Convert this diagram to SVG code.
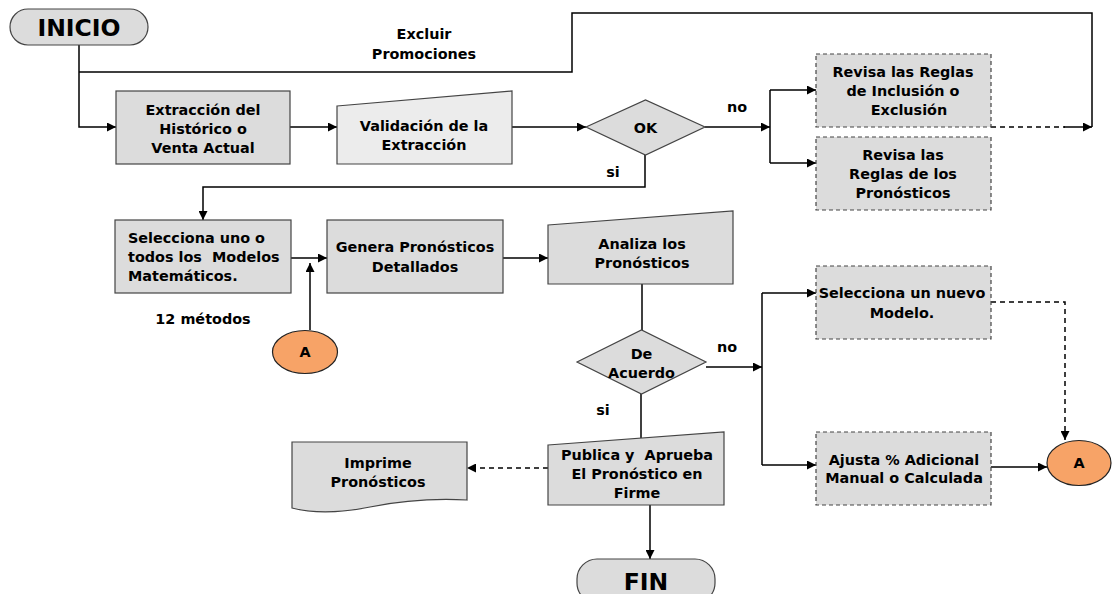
<svg xmlns="http://www.w3.org/2000/svg" width="1112" height="594" viewBox="0 0 1112 594">
<style>
.t{font-family:"DejaVu Sans",Verdana,sans-serif;font-weight:bold;font-size:14.4px;fill:#000;text-anchor:middle}
.big{font-size:23.5px}
.box{fill:#dcdcdc;stroke:#444;stroke-width:1.2}
.lt{fill:#ececec}
.dash{fill:#dcdcdc;stroke:#444;stroke-width:1.2;stroke-dasharray:4 3}
.orange{fill:#f7a367;stroke:#222;stroke-width:1.2}
.c{fill:none;stroke:#000;stroke-width:1.5}
.cd{fill:none;stroke:#000;stroke-width:1.5;stroke-dasharray:5 4}
.lbl{font-family:"DejaVu Sans",Verdana,sans-serif;font-weight:bold;font-size:14.4px;fill:#000;text-anchor:middle}
.st{text-anchor:start}
</style>
<defs>
<marker id="ah" viewBox="0 0 10 10" refX="10" refY="5" markerWidth="10" markerHeight="9" markerUnits="userSpaceOnUse" orient="auto">
<path d="M0,0 L10,5 L0,10 Z" fill="#000"/>
</marker>
</defs>

<g id="connectors">
<path class="c" d="M79,45 V127 H116" marker-end="url(#ah)"/>
<path class="c" d="M79,72 H572 V13 H1092 V127"/>
<path class="c" d="M290,127 H337" marker-end="url(#ah)"/>
<path class="c" d="M512,127 H586" marker-end="url(#ah)"/>
<path class="c" d="M705,127 H770" marker-end="url(#ah)"/>
<path class="c" d="M770,90 V163"/>
<path class="c" d="M770,90 H816" marker-end="url(#ah)"/>
<path class="c" d="M770,163 H816" marker-end="url(#ah)"/>
<path class="cd" d="M991,127 H1065"/>
<path class="c" d="M1064,127 H1092" marker-end="url(#ah)"/>
<path class="c" d="M645,155 V187 H203 V220" marker-end="url(#ah)"/>
<path class="c" d="M291,258 H327" marker-end="url(#ah)"/>
<path class="c" d="M310,330 V263" marker-end="url(#ah)"/>
<path class="c" d="M503,258 H548" marker-end="url(#ah)"/>
<path class="c" d="M642,284 V330"/>
<path class="c" d="M706,367 H762" marker-end="url(#ah)"/>
<path class="c" d="M762,293 V465"/>
<path class="c" d="M762,293 H816" marker-end="url(#ah)"/>
<path class="c" d="M762,465 H816" marker-end="url(#ah)"/>
<path class="cd" d="M991,302 H1065 V440" marker-end="url(#ah)"/>
<path class="c" d="M991,467 H1047" marker-end="url(#ah)"/>
<path class="c" d="M641,394 V438"/>
<path class="cd" d="M548,468 H467" marker-end="url(#ah)"/>
<path class="c" d="M650,505 V559" marker-end="url(#ah)"/>
</g>

<g id="labels">
<text class="lbl" x="424" y="39">Excluir</text>
<text class="lbl" x="424" y="59">Promociones</text>
<text class="lbl" x="613" y="177">si</text>
<text class="lbl" x="737" y="112">no</text>
<text class="lbl" x="203" y="324">12 métodos</text>
<text class="lbl" x="727" y="352">no</text>
<text class="lbl" x="603" y="415">si</text>
</g>

<g id="inicio">
<rect x="10" y="9" width="138" height="36" rx="18" class="box"/>
<text class="t big" x="79" y="36">INICIO</text>
</g>

<g id="extraccion">
<rect x="116" y="91" width="174" height="73" class="box"/>
<text class="t" x="203" y="115">Extracción del</text>
<text class="t" x="203" y="134">Histórico o</text>
<text class="t" x="203" y="153">Venta Actual</text>
</g>

<g id="validacion">
<path d="M337,106 L512,91 V164 H337 Z" class="box lt"/>
<text class="t" x="424" y="131">Validación de la</text>
<text class="t" x="424" y="150">Extracción</text>
</g>

<g id="ok">
<path d="M586,127 L645.5,100 L705,127 L645.5,155 Z" class="box"/>
<text class="t" x="645.5" y="133">OK</text>
</g>

<g id="revisa-inclusion">
<rect x="816" y="54" width="175" height="73" class="dash"/>
<text class="t" x="903" y="77">Revisa las Reglas</text>
<text class="t" x="903" y="96">de Inclusión o</text>
<text class="t" x="909" y="115">Exclusión</text>
</g>

<g id="revisa-pronosticos">
<rect x="816" y="137" width="175" height="73" class="dash"/>
<text class="t" x="903" y="160">Revisa las</text>
<text class="t" x="903" y="179">Reglas de los</text>
<text class="t" x="903" y="198">Pronósticos</text>
</g>

<g id="selecciona">
<rect x="115" y="220" width="176" height="73" class="box"/>
<text class="t st" x="128" y="243">Selecciona uno o</text>
<text class="t st" x="128" y="262" xml:space="preserve">todos los  Modelos</text>
<text class="t st" x="128" y="281">Matemáticos.</text>
</g>

<g id="genera">
<rect x="327" y="220" width="176" height="73" class="box"/>
<text class="t" x="415" y="252">Genera Pronósticos</text>
<text class="t" x="415" y="272">Detallados</text>
</g>

<g id="a1">
<ellipse cx="305" cy="352" rx="32.5" ry="21.5" class="orange"/>
<text class="t" x="305" y="357">A</text>
</g>

<g id="analiza">
<path d="M548,225 L733,211 V284 H548 Z" class="box"/>
<text class="t" x="642" y="249">Analiza los</text>
<text class="t" x="642" y="268">Pronósticos</text>
</g>

<g id="de-acuerdo">
<path d="M577,362 L641.5,330 L706,362 L641.5,394 Z" class="box"/>
<text class="t" x="641.5" y="359">De</text>
<text class="t" x="641.5" y="378">Acuerdo</text>
</g>

<g id="selecciona-nuevo">
<rect x="816" y="266" width="175" height="73" class="dash"/>
<text class="t" x="902" y="298">Selecciona un nuevo</text>
<text class="t" x="902" y="318">Modelo.</text>
</g>

<g id="ajusta">
<rect x="816" y="432" width="175" height="73" class="dash"/>
<text class="t" x="904" y="465">Ajusta % Adicional</text>
<text class="t" x="904" y="483">Manual o Calculada</text>
</g>

<g id="a2">
<ellipse cx="1079" cy="463" rx="32" ry="22.5" class="orange"/>
<text class="t" x="1079" y="468">A</text>
</g>

<g id="publica">
<path d="M548,445 L724,432 V505 H548 Z" class="box"/>
<text class="t" x="637" y="460" xml:space="preserve">Publica y  Aprueba</text>
<text class="t" x="637" y="479">El Pronóstico en</text>
<text class="t" x="637" y="498">Firme</text>
</g>

<g id="imprime">
<path d="M292,442 H467 V500 C430,498 400,501 370,507 C340,513 315,514 292,508 Z" class="box"/>
<text class="t" x="378" y="468">Imprime</text>
<text class="t" x="378" y="487">Pronósticos</text>
</g>

<g id="fin">
<rect x="577" y="559" width="138" height="44" rx="20" class="box"/>
<text class="t big" x="646" y="590">FIN</text>
</g>
</svg>
